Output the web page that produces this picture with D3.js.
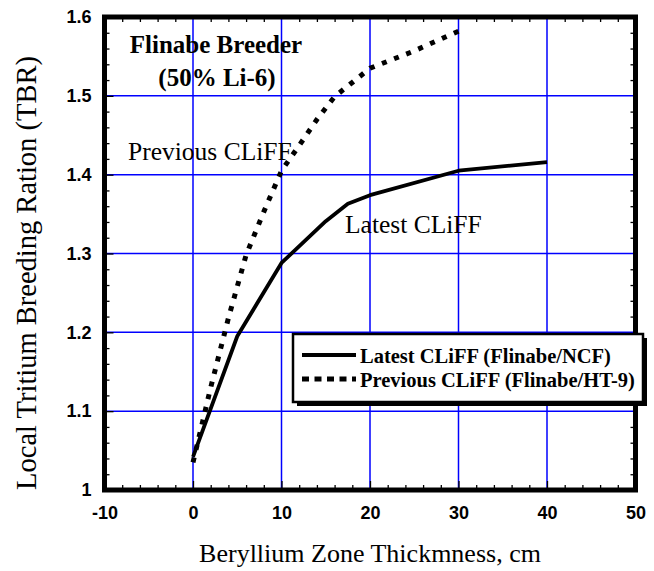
<!DOCTYPE html>
<html>
<head>
<meta charset="utf-8">
<script src="https://cdn.jsdelivr.net/npm/d3@7"></script>
<style>
  body { margin: 0; background: #fff; }
  svg { display: block; }
</style>
</head>
<body>
<svg id="chart" width="654" height="571"></svg>
<script>
// Tritium breeding ratio vs. beryllium zone thickness (cm)
const latestX = [0, 5, 10, 15, 17.5, 20, 30, 40];
const latestY = [1.042, 1.195, 1.288, 1.341, 1.363, 1.374, 1.405, 1.416];
const previousX = [0, 2, 4, 6, 8, 10, 12, 14, 16, 18, 20, 25, 30];
const previousY = [1.035, 1.130, 1.218, 1.298, 1.353, 1.405, 1.437, 1.470, 1.499, 1.517, 1.535, 1.557, 1.582];
const xTicks = [-10, 0, 10, 20, 30, 40, 50];
const yTicks = [1, 1.1, 1.2, 1.3, 1.4, 1.5, 1.6];
const seriesNames = ["Latest CLiFF (Flinabe/NCF)", "Previous CLiFF (Flinabe/HT-9)"];
const titleLines = ["Flinabe Breeder", "(50% Li-6)"];
const curveLabels = ["Latest CLiFF", "Previous CLiFF"];
const xTitle = "Beryllium Zone Thickmness, cm";
const yTitle = "Local Tritium Breeding Ration (TBR)";

const serif = "'Liberation Serif', 'Times New Roman', serif";
const sans = "'Liberation Sans', Arial, sans-serif";
const curveDots = "5,8";
const legendDots = "7,5.5";

const svg = d3.select("#chart");
const pL = 104.5, pR = 635.5, pT = 17, pB = 490;

const x = d3.scaleLinear().domain([-10, 50]).range([pL, pR]);
const y = d3.scaleLinear().domain([1, 1.6]).range([pB, pT]);

// Blue grid at the major ticks
const grid = svg.append("g").attr("stroke", "#0000ff").attr("stroke-width", 1.5);
grid.selectAll("line.gx").data(xTicks.slice(1, -1)).join("line").attr("class", "gx")
  .attr("x1", d => x(d)).attr("x2", d => x(d)).attr("y1", pT).attr("y2", pB);
grid.selectAll("line.gy").data(yTicks.slice(1, -1)).join("line").attr("class", "gy")
  .attr("y1", d => y(d)).attr("y2", d => y(d)).attr("x1", pL).attr("x2", pR);

// Minor tick positions
const xMinor = d3.range(-10, 50.001, 2).filter(v => Math.abs(v % 10) > 1e-6);
const yMinor = d3.range(1, 1.6001, 0.02).filter(v => Math.abs(Math.round(v * 10) - v * 10) > 1e-6);

function styleAxis(g) {
  g.select(".domain").remove();
  g.selectAll(".tick line").attr("stroke", "#000").attr("stroke-width", 1.3);
}

// Minor ticks on all four sides, pointing inward
svg.append("g").attr("transform", `translate(0,${pB})`)
  .call(d3.axisBottom(x).tickValues(xMinor).tickFormat("").tickSizeInner(-5).tickSizeOuter(0)).call(styleAxis);
svg.append("g").attr("transform", `translate(0,${pT})`)
  .call(d3.axisTop(x).tickValues(xMinor).tickFormat("").tickSizeInner(-5).tickSizeOuter(0)).call(styleAxis);
svg.append("g").attr("transform", `translate(${pL},0)`)
  .call(d3.axisLeft(y).tickValues(yMinor).tickFormat("").tickSizeInner(-5).tickSizeOuter(0)).call(styleAxis);
svg.append("g").attr("transform", `translate(${pR},0)`)
  .call(d3.axisRight(y).tickValues(yMinor).tickFormat("").tickSizeInner(-5).tickSizeOuter(0)).call(styleAxis);

function styleLabels(g) {
  g.attr("font-family", null).attr("font-size", null);
  g.selectAll(".tick text")
    .style("font-family", sans).style("font-weight", "bold")
    .style("font-size", "18px").attr("fill", "#000");
}

// Major ticks with labels
svg.append("g").attr("transform", `translate(0,${pB})`)
  .call(d3.axisBottom(x).tickValues(xTicks).tickFormat(d => String(d)).tickSizeInner(-9).tickSizeOuter(0).tickPadding(16))
  .call(styleAxis).call(styleLabels);

svg.append("g").attr("transform", `translate(${pL},0)`)
  .call(d3.axisLeft(y).tickValues(yTicks).tickFormat(d => String(d)).tickSizeInner(-9).tickSizeOuter(0).tickPadding(13))
  .call(styleAxis).call(styleLabels);

// Data curves
const line = d3.line().x(d => x(d[0])).y(d => y(d[1]));
const latest = latestX.map((v, i) => [v, latestY[i]]);
const previous = previousX.map((v, i) => [v, previousY[i]]);

svg.append("path").datum(latest).attr("d", line)
  .attr("fill", "none").attr("stroke", "#000").attr("stroke-width", 3.8)
  .attr("stroke-linejoin", "round");
svg.append("path").datum(previous).attr("d", line)
  .attr("fill", "none").attr("stroke", "#000").attr("stroke-width", 5)
  .attr("stroke-dasharray", curveDots);

// Plot frame
svg.append("rect").attr("x", pL).attr("y", pT)
  .attr("width", pR - pL).attr("height", pB - pT)
  .attr("fill", "none").attr("stroke", "#000").attr("stroke-width", 5);

// Annotations
svg.append("text").attr("x", 216).attr("y", 53).attr("text-anchor", "middle")
  .attr("font-family", serif).attr("font-weight", "bold").attr("font-size", 25)
  .text(titleLines[0]);
svg.append("text").attr("x", 217).attr("y", 86).attr("text-anchor", "middle")
  .attr("font-family", serif).attr("font-weight", "bold").attr("font-size", 25)
  .text(titleLines[1]);
svg.append("text").attr("x", 345).attr("y", 233)
  .attr("font-family", serif).attr("font-size", 25.5).text(curveLabels[0]);
svg.append("text").attr("x", 128).attr("y", 160)
  .attr("font-family", serif).attr("font-size", 25.5).text(curveLabels[1]);

// Axis titles
svg.append("text").attr("x", 370).attr("y", 562).attr("text-anchor", "middle")
  .attr("font-family", serif).attr("font-size", 26).text(xTitle);
svg.append("text").attr("transform", "translate(36,273) rotate(-90)").attr("text-anchor", "middle")
  .attr("font-family", serif).attr("font-size", 28.5).text(yTitle);

// Legend box with drop shadow
const lg = svg.append("g");
const bx = 293, by = 334, bw = 350, bh = 68;
lg.append("rect").attr("x", bx + 4).attr("y", by + 4).attr("width", bw).attr("height", bh).attr("fill", "#000");
lg.append("rect").attr("x", bx).attr("y", by).attr("width", bw).attr("height", bh)
  .attr("fill", "#fff").attr("stroke", "#000").attr("stroke-width", 2.5);

const styles = [null, legendDots];
const widths = [3.8, 5];
seriesNames.forEach((name, i) => {
  const ly = 355 + i * 24;
  lg.append("line").attr("x1", 302).attr("x2", 356).attr("y1", ly).attr("y2", ly)
    .attr("stroke", "#000").attr("stroke-width", widths[i])
    .attr("stroke-dasharray", styles[i]);
  lg.append("text").attr("x", 360).attr("y", ly + 8)
    .attr("font-family", serif).attr("font-weight", "bold").attr("font-size", 20.5)
    .text(name);
});
</script>
</body>
</html>
